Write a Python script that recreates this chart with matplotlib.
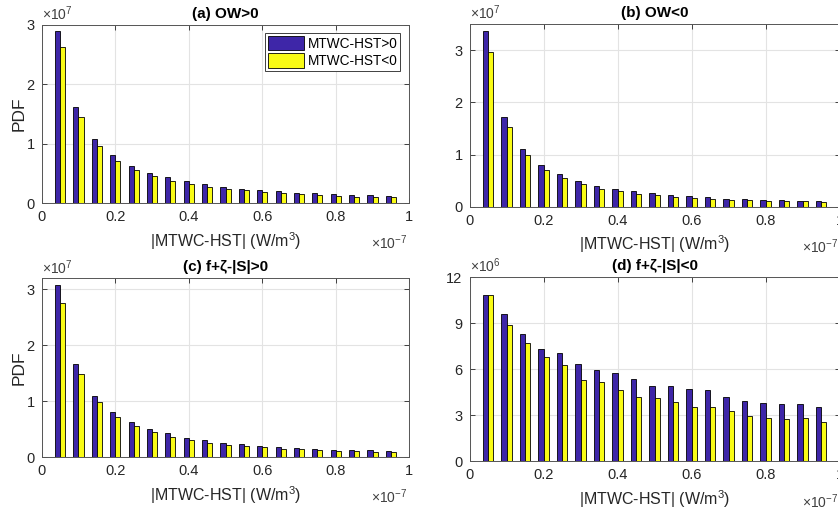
import numpy as np
import matplotlib
matplotlib.use("Agg")
import matplotlib.pyplot as plt
from matplotlib.patches import Patch

plt.rcParams['font.family'] = ['Liberation Sans', 'DejaVu Sans']
plt.rcParams['mathtext.fontset'] = 'custom'
plt.rcParams['mathtext.rm'] = 'Liberation Sans'
plt.rcParams['mathtext.it'] = 'Liberation Sans:italic'

# Bin centres of |MTWC-HST| (units of 1e-7 W/m^3)
bin_centers = [0.05, 0.10, 0.15, 0.20, 0.25, 0.30, 0.35, 0.40, 0.45, 0.50,
               0.55, 0.60, 0.65, 0.70, 0.75, 0.80, 0.85, 0.90, 0.95]

# (a) OW>0, PDF in units of 1e7
a_pos = [2.905, 1.615, 1.082, 0.813, 0.634, 0.516, 0.437, 0.376, 0.325, 0.275,
         0.247, 0.224, 0.202, 0.179, 0.174, 0.151, 0.140, 0.135, 0.123]
a_neg = [2.636, 1.458, 0.970, 0.718, 0.561, 0.454, 0.370, 0.320, 0.269, 0.236,
         0.219, 0.185, 0.168, 0.151, 0.140, 0.118, 0.112, 0.112, 0.107]

# (b) OW<0, PDF in units of 1e7
b_pos = [3.363, 1.723, 1.104, 0.804, 0.625, 0.491, 0.402, 0.338, 0.294, 0.255,
         0.217, 0.198, 0.179, 0.153, 0.140, 0.128, 0.121, 0.108, 0.108]
b_neg = [2.967, 1.525, 0.983, 0.696, 0.542, 0.428, 0.345, 0.300, 0.249, 0.217,
         0.179, 0.160, 0.140, 0.121, 0.121, 0.102, 0.102, 0.102, 0.089]

# (c) f+zeta-|S|>0, PDF in units of 1e7
c_pos = [3.072, 1.664, 1.087, 0.814, 0.624, 0.505, 0.428, 0.345, 0.303, 0.261,
         0.232, 0.202, 0.184, 0.166, 0.149, 0.137, 0.131, 0.125, 0.113]
c_neg = [2.763, 1.485, 0.980, 0.713, 0.553, 0.446, 0.362, 0.303, 0.261, 0.220,
         0.202, 0.184, 0.149, 0.143, 0.125, 0.107, 0.107, 0.101, 0.095]

# (d) f+zeta-|S|<0, PDF in units of 1e6
d_pos = [10.83, 9.59, 8.32, 7.30, 7.04, 6.33, 5.94, 5.76, 5.35, 4.90,
         4.89, 4.72, 4.65, 4.17, 3.93, 3.78, 3.74, 3.72, 3.52]
d_neg = [10.83, 8.91, 7.72, 6.82, 6.26, 5.32, 5.15, 4.65, 4.17, 4.10,
         3.85, 3.52, 3.52, 3.26, 2.97, 2.80, 2.76, 2.80, 2.58]

titles = ['(a) OW>0', '(b) OW<0', '(c) f+\u03b6-|S|>0', '(d) f+\u03b6-|S|<0']
series_labels = ['MTWC-HST>0', 'MTWC-HST<0']
blue = (0.2422, 0.1504, 0.6603)
yellow = (0.9769, 0.9839, 0.0805)
axis_col = '#262626'

W, H = 838, 515
fig = plt.figure(figsize=(W / 100, H / 100), dpi=100)


def px_box(left, right, top, bottom):
    return [left / W, 1 - bottom / H, (right - left) / W, (bottom - top) / H]


boxes = [px_box(41.7, 409.3, 25.0, 203.3),
         px_box(469.5, 839.5, 24.3, 206.7),
         px_box(41.7, 409.3, 278.3, 457.3),
         px_box(469.5, 839.5, 277.3, 461.3)]
panels = [(a_pos, a_neg, 3.0, [0, 1, 2, 3], 7),
          (b_pos, b_neg, 3.5, [0, 1, 2, 3], 7),
          (c_pos, c_neg, 3.2, [0, 1, 2, 3], 7),
          (d_pos, d_neg, 12.0, [0, 3, 6, 9, 12], 6)]

bw = 0.0138
x = np.array(bin_centers)
for i, (box, (pos, neg, ymax, yt, expo)) in enumerate(zip(boxes, panels)):
    ax = fig.add_axes(box)
    ax.set_axisbelow(True)
    ax.bar(x - bw / 2, pos, width=bw, color=blue, edgecolor='black',
           linewidth=0.6, zorder=2)
    ax.bar(x + bw / 2, neg, width=bw, color=yellow, edgecolor='black',
           linewidth=0.6, zorder=2)
    ax.set_xlim(0, 1)
    ax.set_ylim(0, ymax)
    ax.set_xticks([0, 0.2, 0.4, 0.6, 0.8, 1])
    ax.set_xticklabels(['0', '0.2', '0.4', '0.6', '0.8', '1'])
    ax.set_yticks(yt)
    ax.set_yticklabels([str(v) for v in yt])
    ax.grid(True, color='#e3e3e3', linewidth=0.8)
    ax.tick_params(direction='in', length=3.5, width=0.6, colors=axis_col,
                   labelsize=10.5, top=True, right=True, pad=5)
    for s in ax.spines.values():
        s.set_color('#555555')
        s.set_linewidth(0.7)
    ax.set_title(titles[i], fontsize=11, fontweight='bold', color='black', pad=5)
    ax.set_xlabel('|MTWC-HST| (W/m$^{3}$)', fontsize=11.5, color=axis_col,
                  labelpad=4)
    if i in (0, 2):
        ax.set_ylabel('PDF', fontsize=12.5, color=axis_col, labelpad=0)
    # exponent annotations for both axes
    ax.text(0.0, 1.01, r'$\times10^{%d}$' % expo, transform=ax.transAxes,
            ha='left', va='bottom', fontsize=10, color='#404040')
    ax_w = box[2] * W
    ax.text(1 - 38 / ax_w, -0.17, r'$\times10^{-7}$', transform=ax.transAxes,
            ha='left', va='top', fontsize=10, color='#404040')
    if i == 0:
        handles = [Patch(facecolor=blue, edgecolor='black', linewidth=0.6),
                   Patch(facecolor=yellow, edgecolor='black', linewidth=0.6)]
        leg = ax.legend(handles, series_labels, loc='upper right',
                        bbox_to_anchor=(0.975, 0.955), fontsize=9.8,
                        fancybox=False, framealpha=1, edgecolor='#404040',
                        handlelength=2.6, handleheight=1.25, handletextpad=0.3,
                        labelspacing=0.2, borderpad=0.2, borderaxespad=0.0)
        leg.get_frame().set_linewidth(0.7)

fig.savefig('out.png', dpi=100)
